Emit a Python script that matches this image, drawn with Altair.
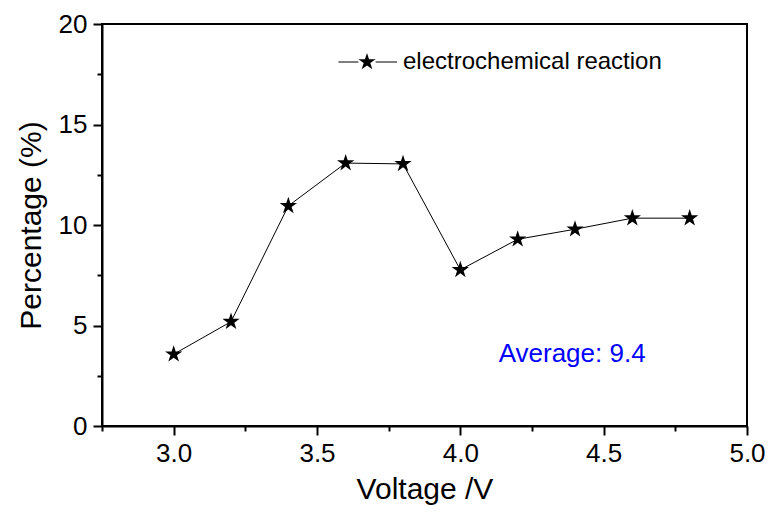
import altair as alt
import pandas as pd

voltage = [3.0, 3.2, 3.4, 3.6, 3.8, 4.0, 4.2, 4.4, 4.6, 4.8]
percentage = [3.57, 5.19, 10.95, 13.08, 13.04, 7.77, 9.29, 9.79, 10.34, 10.34]
series_name = "electrochemical reaction"
x_ticks = [2.75, 3.0, 3.25, 3.5, 3.75, 4.0, 4.25, 4.5, 4.75, 5.0]
y_ticks = [0, 2.5, 5, 7.5, 10, 12.5, 15, 17.5, 20]
avg_label = ["Average: 9.4"]
avg_pos_x = [4.39]
avg_pos_y = [3.57]

df = pd.DataFrame({"Voltage": voltage, "Percentage": percentage,
                   "series": [series_name] * len(voltage)})
ann = pd.DataFrame({"x": avg_pos_x, "y": avg_pos_y, "t": avg_label})

STAR = ("M0,-1L0.225,-0.309L0.951,-0.309L0.363,0.118L0.588,0.809L0,0.382"
        "L-0.588,0.809L-0.363,0.118L-0.951,-0.309L-0.225,-0.309Z")
LEG = ("M-3.15,-0.055H-0.95V0.055H-3.15Z M0.95,-0.055H3.3V0.055H0.95Z " + STAR)

FONT = "Liberation Sans"

xscale = alt.Scale(domain=[2.75, 5.0], nice=False, zero=False)
yscale = alt.Scale(domain=[0, 20], nice=False)

xaxis = alt.Axis(
    title="Voltage /V", values=x_ticks,
    labelExpr="datum.value % 0.5 == 0 ? format(datum.value, '.1f') : ''",
    tickSize={"condition": {"test": "datum.value % 0.5 != 0", "value": 5}, "value": 9},
    tickWidth=2, tickColor="black", domainColor="black", domainWidth=2,
    labelFontSize=26, titleFontSize=30, labelFont=FONT, titleFont=FONT,
    labelColor="black", titleColor="black", titleFontWeight="normal",
    labelPadding=5, titlePadding=8, grid=False, labelFlush=False,
)
yaxis = alt.Axis(
    title="Percentage (%)", values=y_ticks,
    labelExpr="datum.value % 5 == 0 ? format(datum.value, 'd') : ''",
    tickSize={"condition": {"test": "datum.value % 5 != 0", "value": 5}, "value": 9},
    tickWidth=2, tickColor="black", domainColor="black", domainWidth=2,
    labelFontSize=26, titleFontSize=30, labelFont=FONT, titleFont=FONT,
    labelColor="black", titleColor="black", titleFontWeight="normal",
    labelPadding=6, titlePadding=12, grid=False, labelFlush=False,
)

base = alt.Chart(df)
line = base.mark_line(color="black", strokeWidth=1).encode(
    x=alt.X("Voltage:Q", scale=xscale, axis=xaxis),
    y=alt.Y("Percentage:Q", scale=yscale, axis=yaxis),
)
points = base.mark_point(shape=STAR, filled=True, size=330, opacity=1).encode(
    x=alt.X("Voltage:Q", scale=xscale),
    y=alt.Y("Percentage:Q", scale=yscale),
    color=alt.Color("series:N",
                    scale=alt.Scale(domain=[series_name], range=["black"]),
                    legend=alt.Legend(title=None, orient="none", legendX=253, legendY=26,
                                      symbolType=LEG, symbolSize=330, labelFontSize=24,
                                      labelFont=FONT, labelColor="black", labelOffset=24,
                                      labelLimit=500, padding=0, symbolOpacity=1)),
)
text = alt.Chart(ann).mark_text(color="#0000ff", fontSize=26, font=FONT, align="center",
                                baseline="middle").encode(
    x=alt.X("x:Q", scale=xscale), y=alt.Y("y:Q", scale=yscale), text="t:N")

chart = alt.layer(line, points, text).properties(
    width=645, height=402,
    background="white",
    autosize=alt.AutoSizeParams(type="none"),
    padding={"left": 102, "top": 24, "right": 23, "bottom": 87},
).configure_view(stroke="black", strokeWidth=2)

chart.save("out.html", embed_options={"renderer": "svg", "actions": False})
